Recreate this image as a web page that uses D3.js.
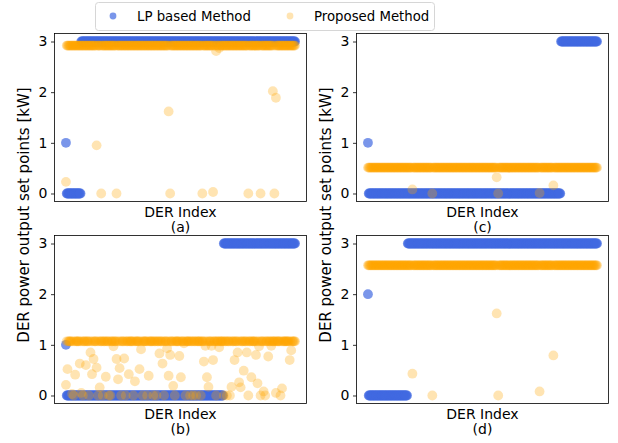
<!DOCTYPE html>
<html lang="en">
  <head>
    <meta charset="utf-8" />
    <title>DER power output set points</title>
    <script type="text/javascript" src="https://cdn.jsdelivr.net/npm/d3@7"></script>
    <style type="text/css">
body { margin: 0; background: white; }
svg text { font-family: "DejaVu Sans", sans-serif; fill: black; }
    </style>
  </head>
  <body>
    <script type="text/javascript">
// One value per DER (index 0..299).
var lpA = [
  1, 0, 0, 0, 0, 0, 0, 0, 0, 0,
  0, 0, 0, 0, 0, 0, 0, 0, 0, 0,
  3, 3, 3, 3, 3, 3, 3, 3, 3, 3,
  3, 3, 3, 3, 3, 3, 3, 3, 3, 3,
  3, 3, 3, 3, 3, 3, 3, 3, 3, 3,
  3, 3, 3, 3, 3, 3, 3, 3, 3, 3,
  3, 3, 3, 3, 3, 3, 3, 3, 3, 3,
  3, 3, 3, 3, 3, 3, 3, 3, 3, 3,
  3, 3, 3, 3, 3, 3, 3, 3, 3, 3,
  3, 3, 3, 3, 3, 3, 3, 3, 3, 3,
  3, 3, 3, 3, 3, 3, 3, 3, 3, 3,
  3, 3, 3, 3, 3, 3, 3, 3, 3, 3,
  3, 3, 3, 3, 3, 3, 3, 3, 3, 3,
  3, 3, 3, 3, 3, 3, 3, 3, 3, 3,
  3, 3, 3, 3, 3, 3, 3, 3, 3, 3,
  3, 3, 3, 3, 3, 3, 3, 3, 3, 3,
  3, 3, 3, 3, 3, 3, 3, 3, 3, 3,
  3, 3, 3, 3, 3, 3, 3, 3, 3, 3,
  3, 3, 3, 3, 3, 3, 3, 3, 3, 3,
  3, 3, 3, 3, 3, 3, 3, 3, 3, 3,
  3, 3, 3, 3, 3, 3, 3, 3, 3, 3,
  3, 3, 3, 3, 3, 3, 3, 3, 3, 3,
  3, 3, 3, 3, 3, 3, 3, 3, 3, 3,
  3, 3, 3, 3, 3, 3, 3, 3, 3, 3,
  3, 3, 3, 3, 3, 3, 3, 3, 3, 3,
  3, 3, 3, 3, 3, 3, 3, 3, 3, 3,
  3, 3, 3, 3, 3, 3, 3, 3, 3, 3,
  3, 3, 3, 3, 3, 3, 3, 3, 3, 3,
  3, 3, 3, 3, 3, 3, 3, 3, 3, 3,
  3, 3, 3, 3, 3, 3, 3, 3, 3, 3
];
var propA = [
  0.23, 2.92, 2.92, 2.92, 2.92, 2.92, 2.92, 2.92, 2.92, 2.92,
  2.92, 2.92, 2.92, 2.92, 2.92, 2.92, 2.92, 2.92, 2.92, 2.92,
  2.92, 2.92, 2.92, 2.92, 2.92, 2.92, 2.92, 2.92, 2.92, 2.92,
  2.92, 2.92, 2.92, 2.92, 2.92, 2.92, 2.92, 2.92, 2.92, 2.92,
  0.95, 2.92, 2.92, 2.92, 2.92, 2.92, 0, 2.92, 2.92, 2.92,
  2.92, 2.92, 2.92, 2.92, 2.92, 2.92, 2.92, 2.92, 2.92, 2.92,
  2.92, 2.92, 2.92, 2.92, 2.92, 2.92, 0, 2.92, 2.92, 2.92,
  2.92, 2.92, 2.92, 2.92, 2.92, 2.92, 2.92, 2.92, 2.92, 2.92,
  2.92, 2.92, 2.92, 2.92, 2.92, 2.92, 2.92, 2.92, 2.92, 2.92,
  2.92, 2.92, 2.92, 2.92, 2.92, 2.92, 2.92, 2.92, 2.92, 2.92,
  2.92, 2.92, 2.92, 2.92, 2.92, 2.92, 2.92, 2.92, 2.92, 2.92,
  2.92, 2.92, 2.92, 2.92, 2.92, 2.92, 2.92, 2.92, 2.92, 2.92,
  2.92, 2.92, 2.92, 2.92, 2.92, 2.92, 2.92, 2.92, 2.92, 2.92,
  2.92, 2.92, 2.92, 2.92, 1.62, 2.92, 0, 2.92, 2.92, 2.92,
  2.92, 2.92, 2.92, 2.92, 2.92, 2.92, 2.92, 2.92, 2.92, 2.92,
  2.92, 2.92, 2.92, 2.92, 2.92, 2.92, 2.92, 2.92, 2.92, 2.92,
  2.92, 2.92, 2.92, 2.92, 2.92, 2.92, 2.92, 2.92, 2.92, 2.92,
  2.92, 2.92, 2.92, 2.92, 2.92, 2.92, 2.92, 2.92, 0, 2.92,
  2.92, 2.92, 2.92, 2.92, 2.92, 2.92, 2.92, 2.92, 2.92, 2.92,
  2.92, 2.92, 0.03, 2.92, 2.92, 2.92, 2.81, 2.92, 2.92, 2.92,
  2.87, 2.92, 2.92, 2.92, 2.92, 2.92, 2.92, 2.92, 2.92, 2.92,
  2.92, 2.92, 2.92, 2.92, 2.92, 2.92, 2.92, 2.92, 2.92, 2.92,
  2.92, 2.92, 2.92, 2.92, 2.92, 2.92, 2.92, 2.92, 2.92, 2.92,
  2.92, 2.92, 2.92, 2.92, 2.92, 2.92, 2.92, 2.92, 0, 2.92,
  2.92, 2.92, 2.92, 2.92, 2.92, 2.92, 2.92, 2.92, 2.92, 2.92,
  2.92, 2.92, 2.92, 2.92, 0, 2.92, 2.92, 2.92, 2.92, 2.92,
  2.92, 2.92, 2.92, 2.92, 2.92, 2.92, 2.92, 2.92, 2.92, 2.92,
  2.02, 2.92, 0, 2.92, 1.89, 2.92, 2.92, 2.92, 2.92, 2.92,
  2.92, 2.92, 2.92, 2.92, 2.92, 2.92, 2.92, 2.92, 2.92, 2.92,
  2.92, 2.92, 2.92, 2.92, 2.92, 2.92, 2.92, 2.92, 2.92, 2.92
];
var lpB = [
  1, 0, 0, 0, 0, 0, 0, 0, 0, 0,
  0, 0, 0, 0, 0, 0, 0, 0, 0, 0,
  0, 0, 0, 0, 0, 0, 0, 0, 0, 0,
  0, 0, 0, 0, 0, 0, 0, 0, 0, 0,
  0, 0, 0, 0, 0, 0, 0, 0, 0, 0,
  0, 0, 0, 0, 0, 0, 0, 0, 0, 0,
  0, 0, 0, 0, 0, 0, 0, 0, 0, 0,
  0, 0, 0, 0, 0, 0, 0, 0, 0, 0,
  0, 0, 0, 0, 0, 0, 0, 0, 0, 0,
  0, 0, 0, 0, 0, 0, 0, 0, 0, 0,
  0, 0, 0, 0, 0, 0, 0, 0, 0, 0,
  0, 0, 0, 0, 0, 0, 0, 0, 0, 0,
  0, 0, 0, 0, 0, 0, 0, 0, 0, 0,
  0, 0, 0, 0, 0, 0, 0, 0, 0, 0,
  0, 0, 0, 0, 0, 0, 0, 0, 0, 0,
  0, 0, 0, 0, 0, 0, 0, 0, 0, 0,
  0, 0, 0, 0, 0, 0, 0, 0, 0, 0,
  0, 0, 0, 0, 0, 0, 0, 0, 0, 0,
  0, 0, 0, 0, 0, 0, 0, 0, 0, 0,
  0, 0, 0, 0, 0, 0, 0, 0, 0, 0,
  0, 0, 0, 0, 0, 0, 3, 3, 3, 3,
  3, 3, 3, 3, 3, 3, 3, 3, 3, 3,
  3, 3, 3, 3, 3, 3, 3, 3, 3, 3,
  3, 3, 3, 3, 3, 3, 3, 3, 3, 3,
  3, 3, 3, 3, 3, 3, 3, 3, 3, 3,
  3, 3, 3, 3, 3, 3, 3, 3, 3, 3,
  3, 3, 3, 3, 3, 3, 3, 3, 3, 3,
  3, 3, 3, 3, 3, 3, 3, 3, 3, 3,
  3, 3, 3, 3, 3, 3, 3, 3, 3, 3,
  3, 3, 3, 3, 3, 3, 3, 3, 3, 3
];
var propB = [
  0.21, 1.07, 0.52, 1.07, 1.07, 1.07, 1.07, 1.07, 0.03, 1.07,
  0, 1.07, 0.41, 1.07, 1.07, 1.07, 1.07, 1.07, 0.63, 1.07,
  0.05, 1.07, 0, 1.07, 1.07, 1.07, 0.6, 1.07, 1.07, 1.07,
  0, 1.07, 0.85, 1.07, 0.42, 1.07, 0.72, 1.07, 1.07, 1.07,
  0.55, 1.07, 0, 1.07, 0.16, 1.07, 1.07, 1.07, 0, 1.07,
  1.07, 1.07, 0.37, 1.07, 1.07, 1.07, 0, 1.07, 0, 1.07,
  1.07, 1.07, 0.97, 1.07, 1.07, 1.07, 0.72, 1.07, 0.32, 1.07,
  0.54, 1.07, 0, 1.07, 1.07, 1.07, 0.73, 1.07, 0, 1.07,
  1.07, 1.07, 0.42, 1.07, 1.07, 1.07, 1.07, 1.07, 0, 1.07,
  0.28, 1.07, 1.07, 1.07, 1.07, 1.07, 0.52, 1.07, 0.91, 1.07,
  0, 1.07, 1.07, 1.07, 1.07, 1.07, 0, 1.07, 0.39, 1.07,
  1.07, 1.07, 1.07, 1.07, 0, 1.07, 1.07, 1.07, 0, 1.07,
  1.07, 1.07, 0.83, 1.07, 1.07, 1.07, 0.63, 1.07, 0, 1.07,
  1.07, 1.07, 0.93, 1.07, 0.39, 1.07, 0.8, 1.07, 1.07, 1.07,
  0.19, 1.07, 0, 1.07, 1.07, 1.07, 1.07, 1.07, 0.78, 1.07,
  0.36, 1.07, 1.07, 1.07, 1.03, 1.07, 0, 1.07, 1.07, 1.07,
  1.07, 1.07, 0, 1.07, 1.07, 1.07, 0, 1.07, 1.07, 1.07,
  0, 1.07, 1.07, 1.07, 1.07, 1.07, 0, 1.07, 1.07, 1.07,
  0.67, 1.07, 0.98, 1.07, 0.36, 1.07, 0.17, 1.07, 1.07, 1.07,
  0.98, 1.07, 0.7, 1.07, 1.07, 1.07, 0, 1.07, 1.07, 1.07,
  0.95, 1.07, 1.07, 1.07, 1.07, 1.07, 0, 1.07, 1.07, 1.07,
  0, 1.07, 1.07, 1.07, 0, 1.07, 0.17, 1.07, 1.07, 1.07,
  0.7, 1.07, 1.07, 1.07, 0.85, 1.07, 0.26, 1.07, 0.16, 1.07,
  1.07, 1.07, 0.49, 1.07, 1.07, 1.07, 0.85, 1.07, 0, 1.07,
  1.07, 1.07, 0.36, 1.07, 1.07, 1.07, 1.07, 1.07, 0.8, 1.07,
  0.24, 1.07, 0.97, 1.07, 0, 1.07, 1.07, 1.07, 0.08, 1.07,
  0, 1.07, 1.07, 1.07, 0.77, 1.07, 1.07, 1.07, 0.98, 1.07,
  1.07, 1.07, 1.07, 1.07, 0.05, 1.07, 1.07, 1.07, 1.07, 1.07,
  0, 1.07, 0.14, 1.07, 1.07, 1.07, 1.07, 1.07, 1.07, 1.07,
  1.07, 1.07, 0.7, 1.07, 0.89, 1.07, 1.07, 1.07, 1.07, 1.07
];
var lpC = [
  1, 0, 0, 0, 0, 0, 0, 0, 0, 0,
  0, 0, 0, 0, 0, 0, 0, 0, 0, 0,
  0, 0, 0, 0, 0, 0, 0, 0, 0, 0,
  0, 0, 0, 0, 0, 0, 0, 0, 0, 0,
  0, 0, 0, 0, 0, 0, 0, 0, 0, 0,
  0, 0, 0, 0, 0, 0, 0, 0, 0, 0,
  0, 0, 0, 0, 0, 0, 0, 0, 0, 0,
  0, 0, 0, 0, 0, 0, 0, 0, 0, 0,
  0, 0, 0, 0, 0, 0, 0, 0, 0, 0,
  0, 0, 0, 0, 0, 0, 0, 0, 0, 0,
  0, 0, 0, 0, 0, 0, 0, 0, 0, 0,
  0, 0, 0, 0, 0, 0, 0, 0, 0, 0,
  0, 0, 0, 0, 0, 0, 0, 0, 0, 0,
  0, 0, 0, 0, 0, 0, 0, 0, 0, 0,
  0, 0, 0, 0, 0, 0, 0, 0, 0, 0,
  0, 0, 0, 0, 0, 0, 0, 0, 0, 0,
  0, 0, 0, 0, 0, 0, 0, 0, 0, 0,
  0, 0, 0, 0, 0, 0, 0, 0, 0, 0,
  0, 0, 0, 0, 0, 0, 0, 0, 0, 0,
  0, 0, 0, 0, 0, 0, 0, 0, 0, 0,
  0, 0, 0, 0, 0, 0, 0, 0, 0, 0,
  0, 0, 0, 0, 0, 0, 0, 0, 0, 0,
  0, 0, 0, 0, 0, 0, 0, 0, 0, 0,
  0, 0, 0, 0, 0, 0, 0, 0, 0, 0,
  0, 0, 0, 0, 0, 0, 0, 0, 0, 0,
  0, 0, 3, 3, 3, 3, 3, 3, 3, 3,
  3, 3, 3, 3, 3, 3, 3, 3, 3, 3,
  3, 3, 3, 3, 3, 3, 3, 3, 3, 3,
  3, 3, 3, 3, 3, 3, 3, 3, 3, 3,
  3, 3, 3, 3, 3, 3, 3, 3, 3, 3
];
var propC = [
  0.51, 0.51, 0.51, 0.51, 0.51, 0.51, 0.51, 0.51, 0.51, 0.51,
  0.51, 0.51, 0.51, 0.51, 0.51, 0.51, 0.51, 0.51, 0.51, 0.51,
  0.51, 0.51, 0.51, 0.51, 0.51, 0.51, 0.51, 0.51, 0.51, 0.51,
  0.51, 0.51, 0.51, 0.51, 0.51, 0.51, 0.51, 0.51, 0.51, 0.51,
  0.51, 0.51, 0.51, 0.51, 0.51, 0.51, 0.51, 0.51, 0.51, 0.51,
  0.51, 0.51, 0.51, 0.51, 0.51, 0.51, 0.51, 0.51, 0.08, 0.51,
  0.51, 0.51, 0.51, 0.51, 0.51, 0.51, 0.51, 0.51, 0.51, 0.51,
  0.51, 0.51, 0.51, 0.51, 0.51, 0.51, 0.51, 0.51, 0.51, 0.51,
  0.51, 0.51, 0.51, 0.51, 0, 0.51, 0.51, 0.51, 0.51, 0.51,
  0.51, 0.51, 0.51, 0.51, 0.51, 0.51, 0.51, 0.51, 0.51, 0.51,
  0.51, 0.51, 0.51, 0.51, 0.51, 0.51, 0.51, 0.51, 0.51, 0.51,
  0.51, 0.51, 0.51, 0.51, 0.51, 0.51, 0.51, 0.51, 0.51, 0.51,
  0.51, 0.51, 0.51, 0.51, 0.51, 0.51, 0.51, 0.51, 0.51, 0.51,
  0.51, 0.51, 0.51, 0.51, 0.51, 0.51, 0.51, 0.51, 0.51, 0.51,
  0.51, 0.51, 0.51, 0.51, 0.51, 0.51, 0.51, 0.51, 0.51, 0.51,
  0.51, 0.51, 0.51, 0.51, 0.51, 0.51, 0.51, 0.51, 0.51, 0.51,
  0.51, 0.51, 0.51, 0.51, 0.51, 0.51, 0.51, 0.51, 0.32, 0.51,
  0, 0.51, 0.51, 0.51, 0.51, 0.51, 0.51, 0.51, 0.51, 0.51,
  0.51, 0.51, 0.51, 0.51, 0.51, 0.51, 0.51, 0.51, 0.51, 0.51,
  0.51, 0.51, 0.51, 0.51, 0.51, 0.51, 0.51, 0.51, 0.51, 0.51,
  0.51, 0.51, 0.51, 0.51, 0.51, 0.51, 0.51, 0.51, 0.51, 0.51,
  0.51, 0.51, 0.51, 0.51, 0.51, 0.51, 0.51, 0.51, 0.51, 0.51,
  0.51, 0.51, 0.51, 0.51, 0.01, 0.51, 0.51, 0.51, 0.51, 0.51,
  0.51, 0.51, 0.51, 0.51, 0.51, 0.51, 0.51, 0.51, 0.51, 0.51,
  0.51, 0.51, 0.16, 0.51, 0.51, 0.51, 0.51, 0.51, 0.51, 0.51,
  0.51, 0.51, 0.51, 0.51, 0.51, 0.51, 0.51, 0.51, 0.51, 0.51,
  0.51, 0.51, 0.51, 0.51, 0.51, 0.51, 0.51, 0.51, 0.51, 0.51,
  0.51, 0.51, 0.51, 0.51, 0.51, 0.51, 0.51, 0.51, 0.51, 0.51,
  0.51, 0.51, 0.51, 0.51, 0.51, 0.51, 0.51, 0.51, 0.51, 0.51,
  0.51, 0.51, 0.51, 0.51, 0.51, 0.51, 0.51, 0.51, 0.51, 0.51
];
var lpD = [
  2, 0, 0, 0, 0, 0, 0, 0, 0, 0,
  0, 0, 0, 0, 0, 0, 0, 0, 0, 0,
  0, 0, 0, 0, 0, 0, 0, 0, 0, 0,
  0, 0, 0, 0, 0, 0, 0, 0, 0, 0,
  0, 0, 0, 0, 0, 0, 0, 0, 0, 0,
  0, 0, 3, 3, 3, 3, 3, 3, 3, 3,
  3, 3, 3, 3, 3, 3, 3, 3, 3, 3,
  3, 3, 3, 3, 3, 3, 3, 3, 3, 3,
  3, 3, 3, 3, 3, 3, 3, 3, 3, 3,
  3, 3, 3, 3, 3, 3, 3, 3, 3, 3,
  3, 3, 3, 3, 3, 3, 3, 3, 3, 3,
  3, 3, 3, 3, 3, 3, 3, 3, 3, 3,
  3, 3, 3, 3, 3, 3, 3, 3, 3, 3,
  3, 3, 3, 3, 3, 3, 3, 3, 3, 3,
  3, 3, 3, 3, 3, 3, 3, 3, 3, 3,
  3, 3, 3, 3, 3, 3, 3, 3, 3, 3,
  3, 3, 3, 3, 3, 3, 3, 3, 3, 3,
  3, 3, 3, 3, 3, 3, 3, 3, 3, 3,
  3, 3, 3, 3, 3, 3, 3, 3, 3, 3,
  3, 3, 3, 3, 3, 3, 3, 3, 3, 3,
  3, 3, 3, 3, 3, 3, 3, 3, 3, 3,
  3, 3, 3, 3, 3, 3, 3, 3, 3, 3,
  3, 3, 3, 3, 3, 3, 3, 3, 3, 3,
  3, 3, 3, 3, 3, 3, 3, 3, 3, 3,
  3, 3, 3, 3, 3, 3, 3, 3, 3, 3,
  3, 3, 3, 3, 3, 3, 3, 3, 3, 3,
  3, 3, 3, 3, 3, 3, 3, 3, 3, 3,
  3, 3, 3, 3, 3, 3, 3, 3, 3, 3,
  3, 3, 3, 3, 3, 3, 3, 3, 3, 3,
  3, 3, 3, 3, 3, 3, 3, 3, 3, 3
];
var propD = [
  2.57, 2.57, 2.57, 2.57, 2.57, 2.57, 2.57, 2.57, 2.57, 2.57,
  2.57, 2.57, 2.57, 2.57, 2.57, 2.57, 2.57, 2.57, 2.57, 2.57,
  2.57, 2.57, 2.57, 2.57, 2.57, 2.57, 2.57, 2.57, 2.57, 2.57,
  2.57, 2.57, 2.57, 2.57, 2.57, 2.57, 2.57, 2.57, 2.57, 2.57,
  2.57, 2.57, 2.57, 2.57, 2.57, 2.57, 2.57, 2.57, 2.57, 2.57,
  2.57, 2.57, 2.57, 2.57, 2.57, 2.57, 2.57, 2.57, 0.43, 2.57,
  2.57, 2.57, 2.57, 2.57, 2.57, 2.57, 2.57, 2.57, 2.57, 2.57,
  2.57, 2.57, 2.57, 2.57, 2.57, 2.57, 2.57, 2.57, 2.57, 2.57,
  2.57, 2.57, 2.57, 2.57, 0, 2.57, 2.57, 2.57, 2.57, 2.57,
  2.57, 2.57, 2.57, 2.57, 2.57, 2.57, 2.57, 2.57, 2.57, 2.57,
  2.57, 2.57, 2.57, 2.57, 2.57, 2.57, 2.57, 2.57, 2.57, 2.57,
  2.57, 2.57, 2.57, 2.57, 2.57, 2.57, 2.57, 2.57, 2.57, 2.57,
  2.57, 2.57, 2.57, 2.57, 2.57, 2.57, 2.57, 2.57, 2.57, 2.57,
  2.57, 2.57, 2.57, 2.57, 2.57, 2.57, 2.57, 2.57, 2.57, 2.57,
  2.57, 2.57, 2.57, 2.57, 2.57, 2.57, 2.57, 2.57, 2.57, 2.57,
  2.57, 2.57, 2.57, 2.57, 2.57, 2.57, 2.57, 2.57, 2.57, 2.57,
  2.57, 2.57, 2.57, 2.57, 2.57, 2.57, 2.57, 2.57, 1.62, 2.57,
  0, 2.57, 2.57, 2.57, 2.57, 2.57, 2.57, 2.57, 2.57, 2.57,
  2.57, 2.57, 2.57, 2.57, 2.57, 2.57, 2.57, 2.57, 2.57, 2.57,
  2.57, 2.57, 2.57, 2.57, 2.57, 2.57, 2.57, 2.57, 2.57, 2.57,
  2.57, 2.57, 2.57, 2.57, 2.57, 2.57, 2.57, 2.57, 2.57, 2.57,
  2.57, 2.57, 2.57, 2.57, 2.57, 2.57, 2.57, 2.57, 2.57, 2.57,
  2.57, 2.57, 2.57, 2.57, 0.08, 2.57, 2.57, 2.57, 2.57, 2.57,
  2.57, 2.57, 2.57, 2.57, 2.57, 2.57, 2.57, 2.57, 2.57, 2.57,
  2.57, 2.57, 0.79, 2.57, 2.57, 2.57, 2.57, 2.57, 2.57, 2.57,
  2.57, 2.57, 2.57, 2.57, 2.57, 2.57, 2.57, 2.57, 2.57, 2.57,
  2.57, 2.57, 2.57, 2.57, 2.57, 2.57, 2.57, 2.57, 2.57, 2.57,
  2.57, 2.57, 2.57, 2.57, 2.57, 2.57, 2.57, 2.57, 2.57, 2.57,
  2.57, 2.57, 2.57, 2.57, 2.57, 2.57, 2.57, 2.57, 2.57, 2.57,
  2.57, 2.57, 2.57, 2.57, 2.57, 2.57, 2.57, 2.57, 2.57, 2.57
];
var yTicks = [0, 1, 2, 3];
var seriesNames = ["LP based Method", "Proposed Method"];
var panelTags = ["(a)", "(b)", "(c)", "(d)"];

var w = 618;
var h = 443;
var pw = 252;   // axes width
var ph = 168;   // axes height
var r = 4.9;    // marker radius
var blue = "royalblue";
var orange = "orange";

var panels = [
  { tag: panelTags[0], lp: lpA, prop: propA, left: 54.5,  top: 33.5 },
  { tag: panelTags[1], lp: lpB, prop: propB, left: 54.5,  top: 235.5 },
  { tag: panelTags[2], lp: lpC, prop: propC, left: 356.5, top: 33.5 },
  { tag: panelTags[3], lp: lpD, prop: propD, left: 356.5, top: 235.5 }
];

var svg = d3.select("body")
            .append("svg")
            .attr("width", w)
            .attr("height", h);

panels.forEach(function(p) {
  var n = p.lp.length;
  var xScale = d3.scaleLinear()
                 .domain([-0.05 * (n - 1), 1.05 * (n - 1)])
                 .range([0, pw]);
  var yScale = d3.scaleLinear()
                 .domain([-0.158, 3.158])
                 .range([ph, 0]);
  var g = svg.append("g")
             .attr("transform", "translate(" + p.left + "," + p.top + ")");

  g.append("g")
   .selectAll("circle")
   .data(p.lp)
   .enter()
   .append("circle")
   .attr("cx", function(d, i) { return xScale(i); })
   .attr("cy", function(d) { return yScale(d); })
   .attr("r", r)
   .attr("fill", blue)
   .attr("fill-opacity", 0.7);

  g.append("g")
   .selectAll("circle")
   .data(p.prop)
   .enter()
   .append("circle")
   .attr("cx", function(d, i) { return xScale(i); })
   .attr("cy", function(d) { return yScale(d); })
   .attr("r", r)
   .attr("fill", orange)
   .attr("fill-opacity", 0.3);

  // frame
  g.append("rect")
   .attr("width", pw)
   .attr("height", ph)
   .attr("fill", "none")
   .attr("stroke", "black")
   .attr("stroke-width", 0.8);

  var yAxis = g.append("g")
               .call(d3.axisLeft(yScale)
                       .tickValues(yTicks)
                       .tickFormat(d3.format("d"))
                       .tickSize(3.5)
                       .tickPadding(3.5));
  yAxis.select(".domain").remove();
  yAxis.selectAll("line").attr("stroke", "black").attr("stroke-width", 0.8);
  yAxis.selectAll("text")
       .attr("font-size", "14px")
       .attr("font-family", "DejaVu Sans")
       .attr("fill", "black");

  g.append("text")
   .attr("x", pw / 2)
   .attr("y", ph + 15)
   .attr("text-anchor", "middle")
   .attr("font-size", "14px")
   .text("DER Index");
  g.append("text")
   .attr("x", pw / 2)
   .attr("y", ph + 30.5)
   .attr("text-anchor", "middle")
   .attr("font-size", "14px")
   .text(p.tag);
});

// y labels, one per column
[23.5, 326].forEach(function(xc) {
  svg.append("text")
     .attr("transform", "translate(" + xc + ",215) rotate(-90)")
     .attr("text-anchor", "middle")
     .attr("dominant-baseline", "central")
     .attr("font-size", "15px")
     .text("DER power output set points [kW]");
});

// legend
var legend = svg.append("g");
legend.append("rect")
      .attr("x", 95.5)
      .attr("y", 2.5)
      .attr("width", 339)
      .attr("height", 28)
      .attr("rx", 3)
      .attr("fill", "white")
      .attr("fill-opacity", 0.8)
      .attr("stroke", "#d6d6d6")
      .attr("stroke-width", 1);
var legendX = [113, 290];
var legendColors = [blue, orange];
var legendAlpha = [0.7, 0.3];
seriesNames.forEach(function(name, i) {
  legend.append("circle")
        .attr("cx", legendX[i])
        .attr("cy", 16)
        .attr("r", 3.4)
        .attr("fill", legendColors[i])
        .attr("fill-opacity", legendAlpha[i]);
  legend.append("text")
        .attr("x", legendX[i] + 24)
        .attr("y", 21)
        .attr("font-size", "13.3px")
        .text(name);
});
    </script>
  </body>
</html>
